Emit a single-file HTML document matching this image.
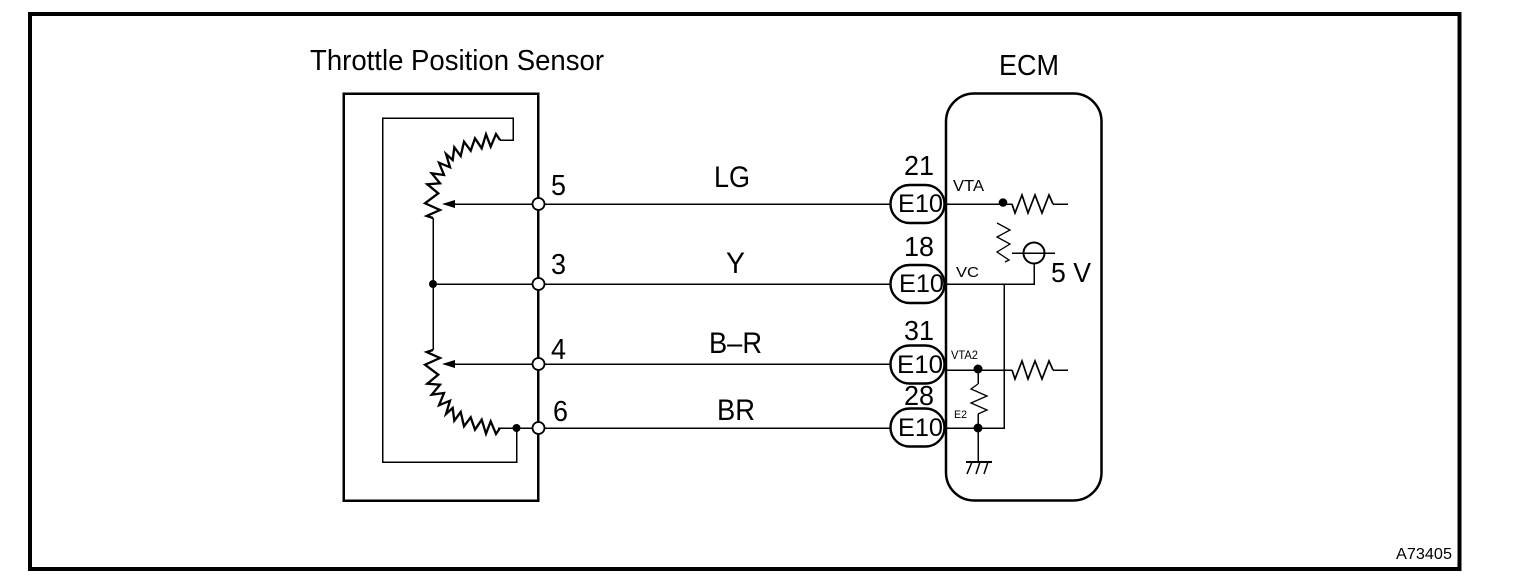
<!DOCTYPE html>
<html><head><meta charset="utf-8">
<style>html,body{margin:0;padding:0;background:#fff;width:1520px;height:586px;overflow:hidden}svg{display:block}
text{font-family:"Liberation Sans",Arial,sans-serif;fill:#000}</style></head>
<body>
<svg width="1520" height="586" viewBox="0 0 1520 586" xmlns="http://www.w3.org/2000/svg">
<rect width="1520" height="586" fill="#fff"/>
<g fill="none" stroke="#000" shape-rendering="crispEdges">
<rect x="30" y="14" width="1429.5" height="555" stroke-width="4"/>
<rect x="343.5" y="93.5" width="194.5" height="407" stroke-width="2.5"/>
<polyline points="500,140 513,140 513,118 382.5,118 382.5,462 516.5,462 516.5,428" stroke-width="1.5"/>
<line x1="433" y1="218" x2="433" y2="350" stroke-width="1.5"/>
<line x1="433" y1="284" x2="890" y2="284" stroke-width="1.5"/>
<line x1="450" y1="204" x2="890" y2="204" stroke-width="1.5"/>
<line x1="450" y1="364" x2="890" y2="364" stroke-width="1.5"/>
<line x1="498" y1="428" x2="890" y2="428" stroke-width="1.5"/>
<!-- ECM wires -->
<line x1="945" y1="204" x2="1012" y2="204" stroke-width="1.5"/>
<line x1="1053" y1="204" x2="1068" y2="204" stroke-width="1.5"/>
<polyline points="945,284 1034,284 1034,264" stroke-width="1.5"/>
<polyline points="1004,284 1004,428 945,428" stroke-width="1.5"/>
<line x1="945" y1="370" x2="1012" y2="370" stroke-width="1.5"/>
<line x1="1053" y1="370" x2="1068" y2="370" stroke-width="1.5"/>
<line x1="978" y1="369" x2="978" y2="384" stroke-width="1.5"/>
<line x1="978" y1="414" x2="978" y2="462" stroke-width="1.5"/>
<line x1="966" y1="462" x2="992" y2="462" stroke-width="2"/>
<line x1="1012" y1="253" x2="1055" y2="253" stroke-width="1.5"/>
</g>
<rect x="946" y="93.5" width="155.5" height="407" rx="28" ry="28" fill="none" stroke="#000" stroke-width="2.5"/>
<!-- arc resistors -->
<g fill="none" stroke="#000" stroke-width="2.3" stroke-linejoin="miter">
<polyline points="500,140 496,134 490.7,146.7 486,134.3 481.7,148.3 475,138.3 470.7,150.7 464,141.7 460.7,156 454.3,147.3 452.7,160 446,154 450,167.3 439,162.7 444,175 431.7,173.3 440,183.3 427.3,184.3 438.3,193.3 425,203.3 440,210 426.7,216 433,218"/>
<polyline transform="matrix(1 0 0 -1 0 568)" points="500,140 496,134 490.7,146.7 486,134.3 481.7,148.3 475,138.3 470.7,150.7 464,141.7 460.7,156 454.3,147.3 452.7,160 446,154 450,167.3 439,162.7 444,175 431.7,173.3 440,183.3 427.3,184.3 438.3,193.3 425,203.3 440,210 426.7,216 433,218"/>
<polyline stroke-width="1.7" points="1012,204 1015,213 1022,195 1028,213 1035,195 1042,213 1049,195 1053,204"/>
<polyline stroke-width="1.7" points="1012,370 1015,379 1022,361 1028,379 1035,361 1042,379 1049,361 1053,370"/>
<polyline stroke-width="1.3" points="997,223 1010,230 997,237 1010,244 997,252 1009,260 1005,262"/>
<polyline stroke-width="1.3" points="978,384 971,389 987,396 971,403 987,410 978,414"/>
<line x1="972" y1="462" x2="967" y2="474" stroke-width="1.5"/>
<line x1="980" y1="462" x2="976" y2="474" stroke-width="1.5"/>
<line x1="988" y1="462" x2="984" y2="474" stroke-width="1.5"/>
<circle cx="1034" cy="253" r="10.5" stroke-width="2"/>
</g>
<!-- arrowheads -->
<polygon points="442,204 455,200 455,208" fill="#000"/>
<polygon points="442,364 455,360 455,368" fill="#000"/>
<!-- dots -->
<g fill="#000">
<circle cx="433" cy="284" r="4"/>
<circle cx="516.5" cy="428" r="4"/>
<circle cx="1003" cy="202.500" r="4.300"/>
<circle cx="978" cy="369" r="4.500"/>
<circle cx="978" cy="428" r="4.500"/>
</g>
<!-- terminals -->
<g fill="#fff" stroke="#000" stroke-width="1.8">
<circle cx="538.500" cy="204" r="6"/>
<circle cx="538.500" cy="284" r="6"/>
<circle cx="538.500" cy="364" r="6"/>
<circle cx="538.500" cy="428" r="6"/>
</g>
<!-- connector pills -->
<g fill="#fff" stroke="#000" stroke-width="2.4">
<rect x="890.500" y="185" width="54" height="38" rx="19" ry="19"/>
<rect x="890.500" y="265" width="54" height="38" rx="19" ry="19"/>
<rect x="890.500" y="345.500" width="54" height="38" rx="19" ry="19"/>
<rect x="890.500" y="408.500" width="54" height="38" rx="19" ry="19"/>
</g>
<!-- text -->
<text x="310" y="70" font-size="29" textLength="294" lengthAdjust="spacingAndGlyphs">Throttle Position Sensor</text>
<text x="999" y="75" font-size="29" textLength="60" lengthAdjust="spacingAndGlyphs">ECM</text>
<g font-size="30" lengthAdjust="spacingAndGlyphs">
<text x="714" y="187" textLength="36" lengthAdjust="spacingAndGlyphs">LG</text>
<text x="726" y="273" textLength="19" lengthAdjust="spacingAndGlyphs">Y</text>
<text x="709" y="353" textLength="53" lengthAdjust="spacingAndGlyphs">B–R</text>
<text x="717" y="420" textLength="38" lengthAdjust="spacingAndGlyphs">BR</text>
</g>
<g font-size="29">
<text x="551" y="195" textLength="15" lengthAdjust="spacingAndGlyphs">5</text>
<text x="551" y="274" textLength="15" lengthAdjust="spacingAndGlyphs">3</text>
<text x="551" y="359" textLength="15" lengthAdjust="spacingAndGlyphs">4</text>
<text x="553" y="421" textLength="15" lengthAdjust="spacingAndGlyphs">6</text>
</g>
<g font-size="28">
<text x="904" y="175" textLength="30" lengthAdjust="spacingAndGlyphs">21</text>
<text x="904" y="256" textLength="30" lengthAdjust="spacingAndGlyphs">18</text>
<text x="904" y="340" textLength="30" lengthAdjust="spacingAndGlyphs">31</text>
<text x="904" y="405" textLength="30" lengthAdjust="spacingAndGlyphs">28</text>
<text x="1051" y="282" textLength="40" lengthAdjust="spacingAndGlyphs">5 V</text>
</g>
<g font-size="25">
<text x="898" y="212" textLength="45" lengthAdjust="spacingAndGlyphs">E10</text>
<text x="899" y="292" textLength="45" lengthAdjust="spacingAndGlyphs">E10</text>
<text x="897" y="373" textLength="46" lengthAdjust="spacingAndGlyphs">E10</text>
<text x="898" y="436" textLength="45" lengthAdjust="spacingAndGlyphs">E10</text>
</g>
<text x="953" y="191" font-size="16" textLength="31" lengthAdjust="spacingAndGlyphs">VTA</text>
<text x="956" y="277" font-size="15" textLength="23" lengthAdjust="spacingAndGlyphs">VC</text>
<text x="951" y="359" font-size="11.500" textLength="27" lengthAdjust="spacingAndGlyphs">VTA2</text>
<text x="954" y="418" font-size="11" textLength="13" lengthAdjust="spacingAndGlyphs">E2</text>
<text x="1396" y="559" font-size="16" textLength="56" lengthAdjust="spacingAndGlyphs">A73405</text>
</svg>
</body></html>
